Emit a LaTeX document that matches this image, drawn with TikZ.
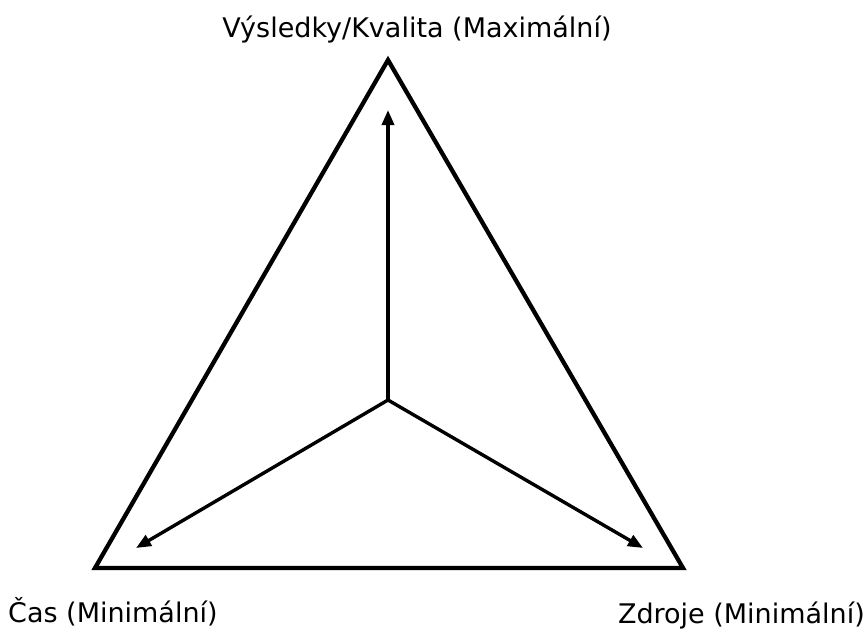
\documentclass[tikz,border=0pt]{standalone}
\usepackage{fontspec}
\setmainfont{DejaVu Sans}
\usetikzlibrary{arrows.meta}
\begin{document}
\begin{tikzpicture}[x=1pt,y=-1pt,
  tri/.style={line width=4.3pt,line join=miter},
  axis/.style={line width=3.4pt,-{Triangle[length=15pt,width=12pt]}},
  lbl/.style={font=\fontsize{27}{31}\selectfont,inner sep=0pt}]
\useasboundingbox (0,0) rectangle (867,630);
\coordinate (T) at (388,60);
\coordinate (L) at (95,568);
\coordinate (R) at (683,568);
\coordinate (C) at (388,400);
\coordinate (TA) at (388,110);
\coordinate (LA) at (136,548);
\coordinate (RA) at (643,548);
\draw[tri] (T) -- (L) -- (R) -- cycle;
\draw[axis] (C) -- (TA);
\draw[axis] (C) -- (LA);
\draw[axis] (C) -- (RA);
\node[lbl,anchor=base] (top) at (417,37) {Výsledky/Kvalita (Maximální)};
\node[lbl,anchor=base west] (left) at (8,622) {Čas (Minimální)};
\node[lbl,anchor=base east] (right) at (865,623) {Zdroje (Minimální)};
\end{tikzpicture}
\end{document}
